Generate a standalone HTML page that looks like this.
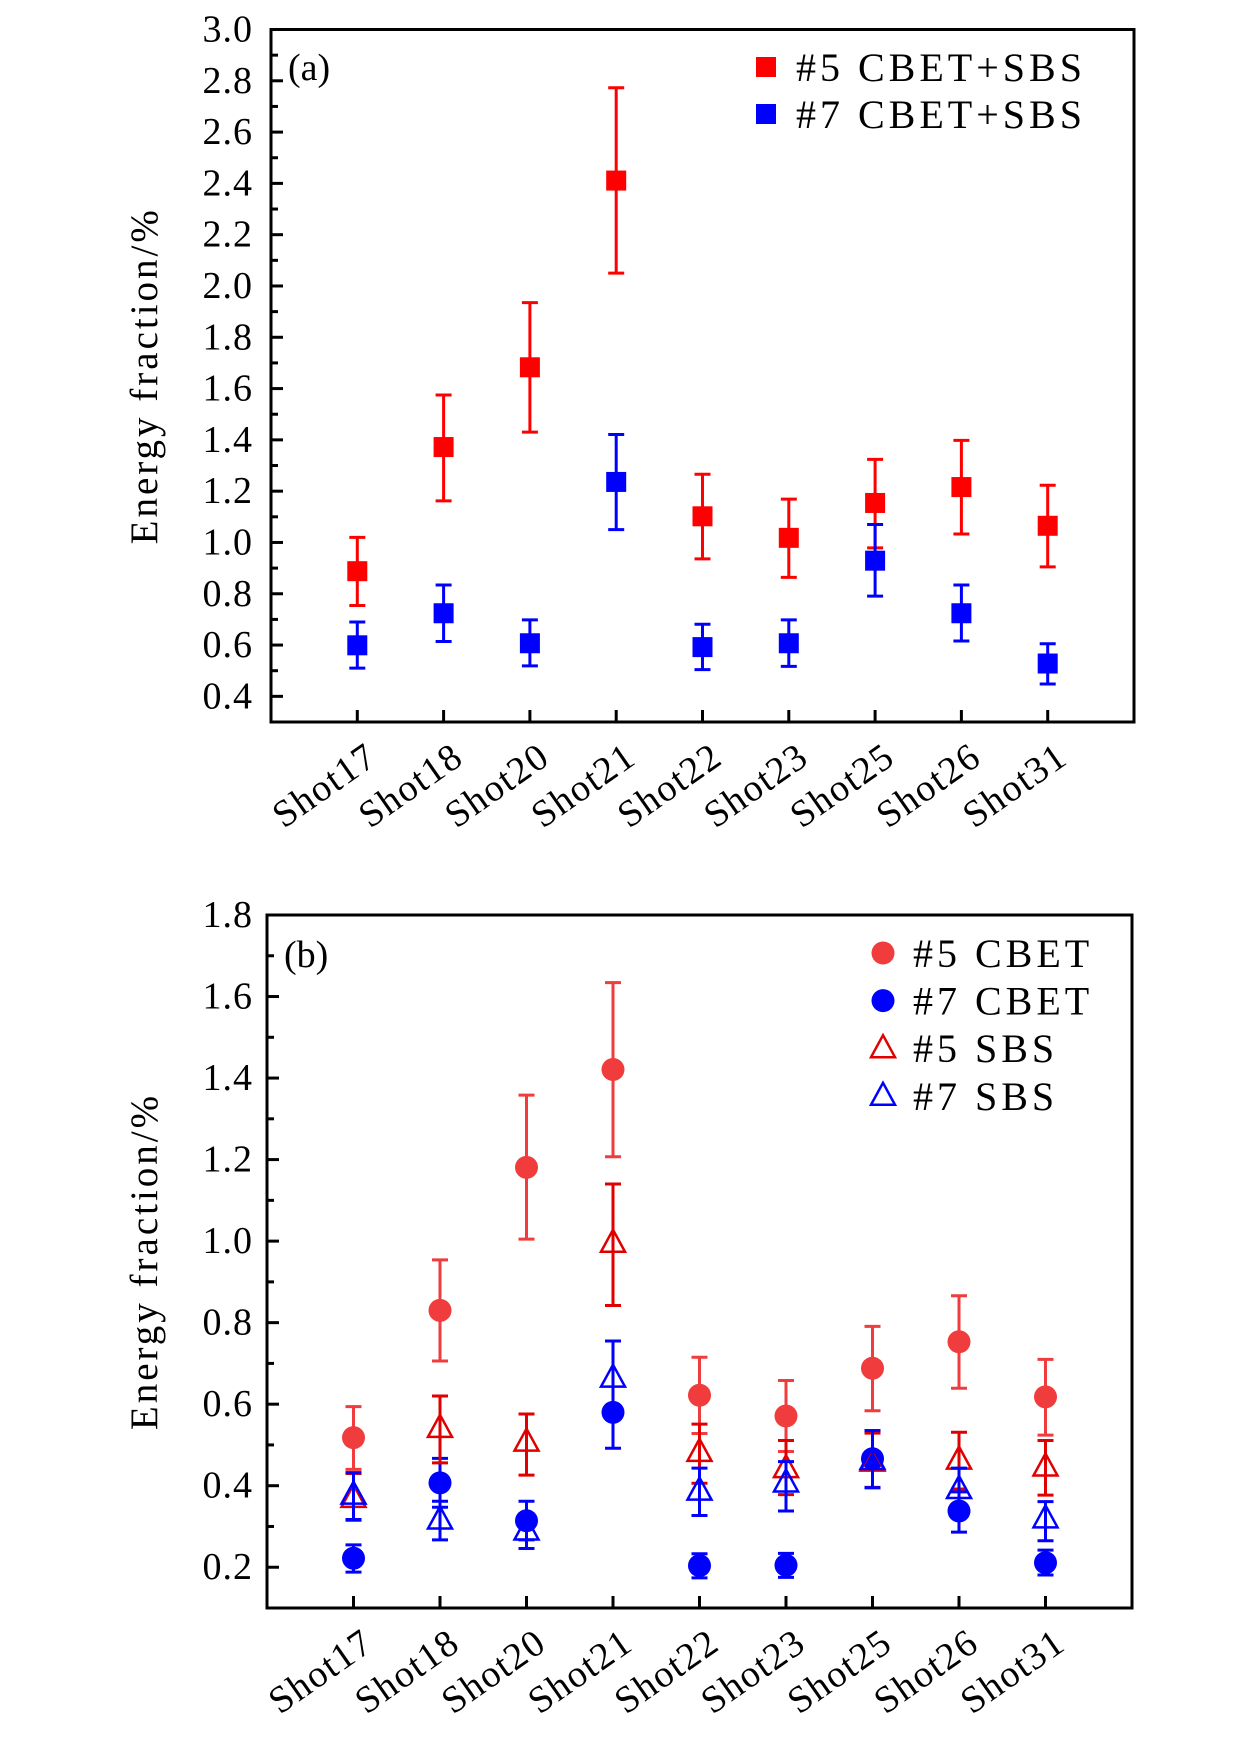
<!DOCTYPE html>
<html><head><meta charset="utf-8"><style>
html,body{margin:0;padding:0;background:#fff;}
svg{display:block;font-family:"Liberation Serif",serif;}
</style></head>
<body>
<svg id="chart" width="1260" height="1740" viewBox="0 0 1260 1740" xmlns="http://www.w3.org/2000/svg"></svg>
<script>
const categories = ["Shot17","Shot18","Shot20","Shot21","Shot22","Shot23","Shot25","Shot26","Shot31"];
// Panel (a)
const a5Val = [0.888,1.372,1.683,2.411,1.102,1.018,1.154,1.216,1.065];
const a5Hi  = [1.020,1.575,1.935,2.773,1.266,1.169,1.324,1.398,1.223];
const a5Lo  = [0.754,1.162,1.430,2.050,0.936,0.864,0.979,1.033,0.905];
const a7Val = [0.599,0.724,0.607,1.236,0.592,0.607,0.929,0.724,0.528];
const a7Hi  = [0.690,0.834,0.698,1.421,0.681,0.698,1.070,0.834,0.605];
const a7Lo  = [0.510,0.614,0.519,1.050,0.504,0.517,0.791,0.616,0.448];
const aTicks = [0.4,0.6,0.8,1.0,1.2,1.4,1.6,1.8,2.0,2.2,2.4,2.6,2.8,3.0];
// Panel (b)
const b5cVal = [0.518,0.830,1.181,1.421,0.622,0.571,0.688,0.753,0.618];
const b5cHi  = [0.594,0.954,1.358,1.634,0.715,0.658,0.791,0.866,0.710];
const b5cLo  = [0.440,0.706,1.005,1.207,0.528,0.484,0.584,0.639,0.524];
const b7cVal = [0.222,0.407,0.314,0.580,0.204,0.205,0.466,0.338,0.211];
const b7cHi  = [0.255,0.467,0.362,0.755,0.233,0.234,0.535,0.385,0.242];
const b7cLo  = [0.188,0.347,0.267,0.492,0.174,0.175,0.396,0.286,0.181];
const b5sVal = [0.370,0.542,0.508,0.996,0.483,0.443,0.459,0.464,0.447];
const b5sHi  = [0.430,0.620,0.576,1.140,0.551,0.511,0.529,0.531,0.511];
const b5sLo  = [0.315,0.456,0.426,0.842,0.406,0.378,0.395,0.392,0.377];
const b7sVal = [0.378,0.317,0.290,0.665,0.388,0.408,0.463,0.392,0.320];
const b7sHi  = [0.432,0.362,0.310,0.755,0.443,0.459,0.535,0.443,0.361];
const b7sLo  = [0.317,0.267,0.246,0.569,0.327,0.338,0.395,0.345,0.265];
const bTicks = [0.2,0.4,0.6,0.8,1.0,1.2,1.4,1.6,1.8];

const NS="http://www.w3.org/2000/svg";
const svg=document.getElementById('chart');
function mk(tag,attrs,parent){const e=document.createElementNS(NS,tag);for(const k in attrs)e.setAttribute(k,attrs[k]);(parent||svg).appendChild(e);return e;}

function panel(cfg){
  const g=mk('g',{});
  
  
  const L=cfg.left,R=cfg.right,T=cfg.top,B=cfg.bottom;
  const xs=i=>L+(R-L)*(i+1)/10;
  const ys=v=>B-(v-cfg.ymin)/(cfg.ymax-cfg.ymin)*(B-T);
  const fr=mk('rect',{x:L,y:T,width:R-L,height:B-T,fill:'none',stroke:'#000','stroke-width':3},g);
  
  
  for(let k=0;k<cfg.ticks.length;k++){
    const v=cfg.ticks[k];const y=ys(v);
    const t=mk('line',{x1:L,x2:L+12,y1:y,y2:y,stroke:'#000','stroke-width':3},g);
    
    
    const lab=mk('text',{x:253,y:y+12,'text-anchor':'end','font-size':38,'letter-spacing':'1'},g);
    lab.textContent=v.toFixed(1);
    
    
    const mv=v-0.1;
    if(mv>cfg.ymin+0.001){const my=ys(mv);const m=mk('line',{x1:L,x2:L+7,y1:my,y2:my,stroke:'#000','stroke-width':3},g);
      
      }
  }
  for(let i=0;i<categories.length;i++){
    const x=xs(i);
    const t=mk('line',{x1:x,x2:x,y1:B,y2:B-12,stroke:'#000','stroke-width':3},g);
    
    
    const lx=x+22,ly=B+40;
    const lab=mk('text',{x:lx,y:ly,'text-anchor':'end','font-size':38,'letter-spacing':'1.5',transform:`rotate(-35 ${lx} ${ly})`},g);
    lab.textContent=categories[i];
    
    
  }
  const cy=(T+B)/2, tx=157;
  const at=mk('text',{x:tx,y:cy,'text-anchor':'middle','font-size':39,'letter-spacing':'3',transform:`rotate(-90 ${tx} ${cy})`},g);
  at.textContent='Energy fraction/%';
  
  
  const pl=mk('text',{x:L+17,y:cfg.labelY,'font-size':38},g);
  pl.textContent=cfg.label;
  
  
  cfg.series.forEach(s=>{
    const sg=mk('g',{},g);
    
    
    for(let i=0;i<categories.length;i++){
      const x=xs(i),yh=ys(s.hi[i]),yl=ys(s.lo[i]),yv=ys(s.val[i]);
      const eb=mk('path',{d:`M${x} ${yh}V${yl}M${x-8} ${yh}H${x+8}M${x-8} ${yl}H${x+8}`,stroke:s.color,'stroke-width':3,fill:'none'},sg);
      
      
      drawMarker(sg,s.shape,x,yv,s.color);
    }
  });
  cfg.series.forEach((s,j)=>{
    const y=cfg.legY+j*cfg.legDy;
    const lg=mk('g',{},g);
    
    
    drawMarker(lg,s.shape,cfg.legX,y,s.color);
    const tt=mk('text',{x:cfg.legX+30,y:y+14,'font-size':40,'letter-spacing':'4'},lg);
    tt.textContent=s.label;
  });
}
function drawMarker(parent,shape,x,y,c){
  let m;
  if(shape==='square') m=mk('rect',{x:x-10,y:y-10,width:20,height:20,fill:c},parent);
  else if(shape==='circle') m=mk('circle',{cx:x,cy:y,r:11.5,fill:c},parent);
  else m=mk('path',{d:`M${x} ${y-13}L${x+12} ${y+9}H${x-12}Z`,fill:'none',stroke:c,'stroke-width':2.5},parent);
  
  
}

panel({name:'panel-a',left:271,right:1134,top:29.5,bottom:722,ymin:0.3,ymax:3.0,ticks:aTicks,label:'(a)',labelY:80,
  legX:766,legY:67,legDy:47,
  series:[
    {name:'series-5-cbet-sbs',label:'#5 CBET+SBS',color:'#ff0000',shape:'square',val:a5Val,hi:a5Hi,lo:a5Lo},
    {name:'series-7-cbet-sbs',label:'#7 CBET+SBS',color:'#0000ff',shape:'square',val:a7Val,hi:a7Hi,lo:a7Lo}
  ]});
panel({name:'panel-b',left:267,right:1132,top:915,bottom:1608,ymin:0.1,ymax:1.8,ticks:bTicks,label:'(b)',labelY:967,
  legX:883,legY:953,legDy:47.6,
  series:[
    {name:'series-5-cbet',label:'#5 CBET',color:'#f03c3c',shape:'circle',val:b5cVal,hi:b5cHi,lo:b5cLo},
    {name:'series-7-cbet',label:'#7 CBET',color:'#0000ff',shape:'circle',val:b7cVal,hi:b7cHi,lo:b7cLo},
    {name:'series-5-sbs',label:'#5 SBS',color:'#e00000',shape:'triangle',val:b5sVal,hi:b5sHi,lo:b5sLo},
    {name:'series-7-sbs',label:'#7 SBS',color:'#0000ff',shape:'triangle',val:b7sVal,hi:b7sHi,lo:b7sLo}
  ]});
</script>
</body></html>
